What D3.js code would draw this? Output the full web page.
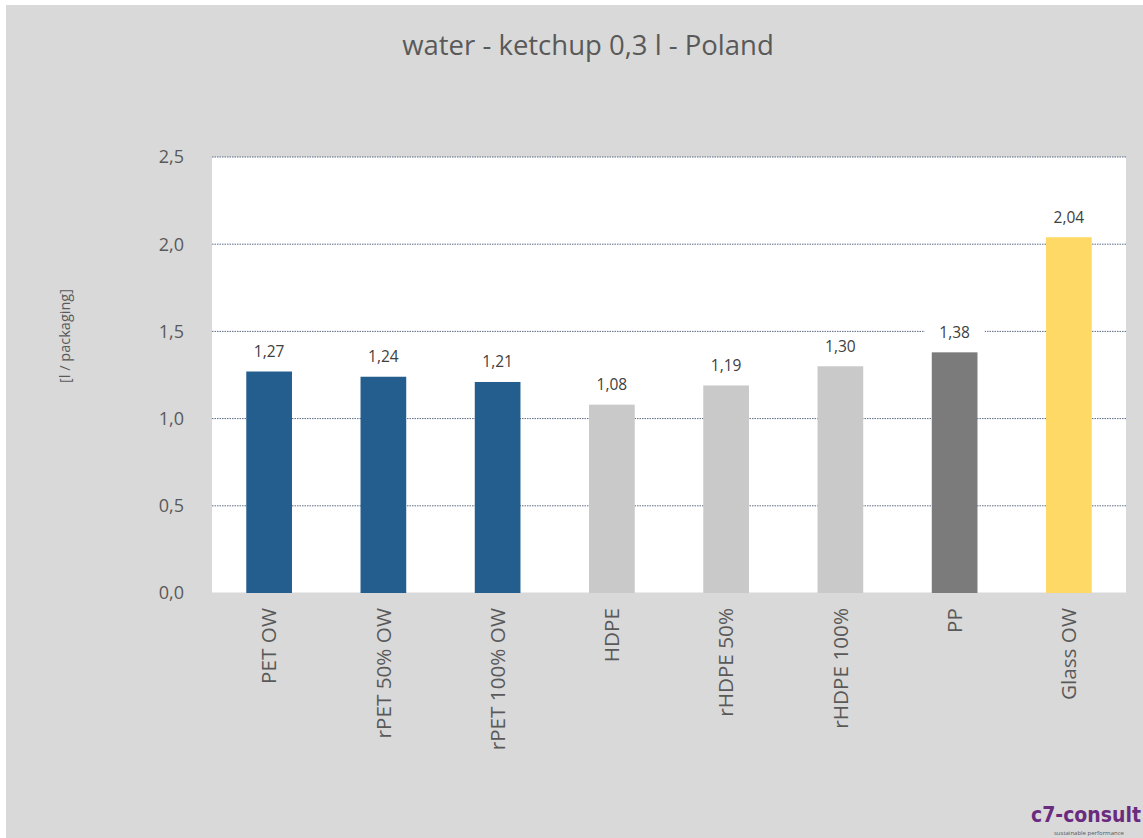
<!DOCTYPE html>
<html><head><meta charset="utf-8">
<script src="https://cdn.jsdelivr.net/npm/d3@7"></script>
<style>html,body{margin:0;padding:0;background:#fff;}</style>
</head><body>
<svg id="c" width="1143" height="838"></svg>
<script>
const categories = ["PET OW","rPET 50% OW","rPET 100% OW","HDPE","rHDPE 50%","rHDPE 100%","PP","Glass OW"];
const values = [1.27,1.24,1.21,1.08,1.19,1.30,1.38,2.04];
const barColors = ["#245e8f","#245e8f","#245e8f","#c9c9c9","#c9c9c9","#c9c9c9","#7b7b7b","#ffd966"];
const yTicks = [0,0.5,1.0,1.5,2.0,2.5];
const title = "water - ketchup 0,3 l - Poland";
const yLabel = "[l / packaging]";

const svg = d3.select("#c");
const font = "'Open Sans', sans-serif";
const fmt = v => d3.format(".2f")(v).replace(".", ",");
const fmtT = v => d3.format(".1f")(v).replace(".", ",");

svg.append("rect").attr("x",6).attr("y",5).attr("width",1137).attr("height",833).attr("fill","#d9d9d9");

const L=212,R=1126,T=157,B=593;
const x = d3.scaleBand().domain(categories).range([L,R]).paddingInner(0.6).paddingOuter(0.3);
const y = d3.scaleLinear().domain([0,2.5]).range([B,T]);

svg.append("rect").attr("x",L).attr("y",T).attr("width",R-L).attr("height",B-T).attr("fill","#fff");

svg.append("g").selectAll("line").data(yTicks.filter(d=>d>0)).join("line")
  .attr("x1",L).attr("x2",R).attr("y1",d=>y(d)).attr("y2",d=>y(d))
  .attr("stroke","#5a6b85").attr("stroke-width",1).attr("stroke-dasharray","1.5,1");

svg.append("line").attr("x1",L).attr("x2",R).attr("y1",B).attr("y2",B).attr("stroke","#d9d9d9").attr("stroke-width",1);

svg.append("g").selectAll("rect").data(values).join("rect")
  .attr("x",(d,i)=>x(categories[i])).attr("width",x.bandwidth())
  .attr("y",d=>y(d)).attr("height",d=>B-y(d))
  .attr("fill",(d,i)=>barColors[i]);

const lg = svg.append("g");
values.forEach((v,i)=>{
  const cx = x(categories[i])+x.bandwidth()/2;
  const cy = y(v)-20;
  lg.append("rect").attr("x",cx-30).attr("y",cy-12).attr("width",60).attr("height",24).attr("fill","#fff");
  lg.append("text").attr("x",cx).attr("y",cy).attr("dy","0.35em").attr("text-anchor","middle")
    .attr("font-family",font).attr("font-size",15.5).attr("fill","#404040").text(fmt(v));
});

svg.append("g").selectAll("text").data(yTicks).join("text")
  .attr("x",184).attr("y",d=>y(d)).attr("dy","0.35em").attr("text-anchor","end")
  .attr("font-family",font).attr("font-size",18).attr("fill","#595959").text(fmtT);

svg.append("g").selectAll("text").data(categories).join("text")
  .attr("transform",d=>`translate(${x(d)+x.bandwidth()/2},608) rotate(-90)`)
  .attr("dy","0.35em").attr("text-anchor","end")
  .attr("font-family",font).attr("font-size",20.7).attr("fill","#595959").text(d=>d);

svg.append("text").attr("transform","translate(65,336) rotate(-90)").attr("text-anchor","middle").attr("dy","0.35em")
  .attr("font-family",font).attr("font-size",14.5).attr("fill","#595959").text(yLabel);

svg.append("text").attr("x",588).attr("y",45).attr("text-anchor","middle").attr("dy","0.35em")
  .attr("font-family",font).attr("font-size",27.5).attr("fill","#595959").text(title);

svg.append("text").attr("x",1141).attr("y",822).attr("text-anchor","end")
  .attr("font-family","'DejaVu Sans Condensed','Liberation Sans Narrow',sans-serif").attr("font-weight","bold")
  .attr("font-size",21).attr("fill","#6a2a7e").text("c7-consult");
svg.append("text").attr("x",1054).attr("y",835)
  .attr("font-family",font).attr("font-size",6).attr("fill","#555").text("sustainable performance");
</script>
</body></html>
